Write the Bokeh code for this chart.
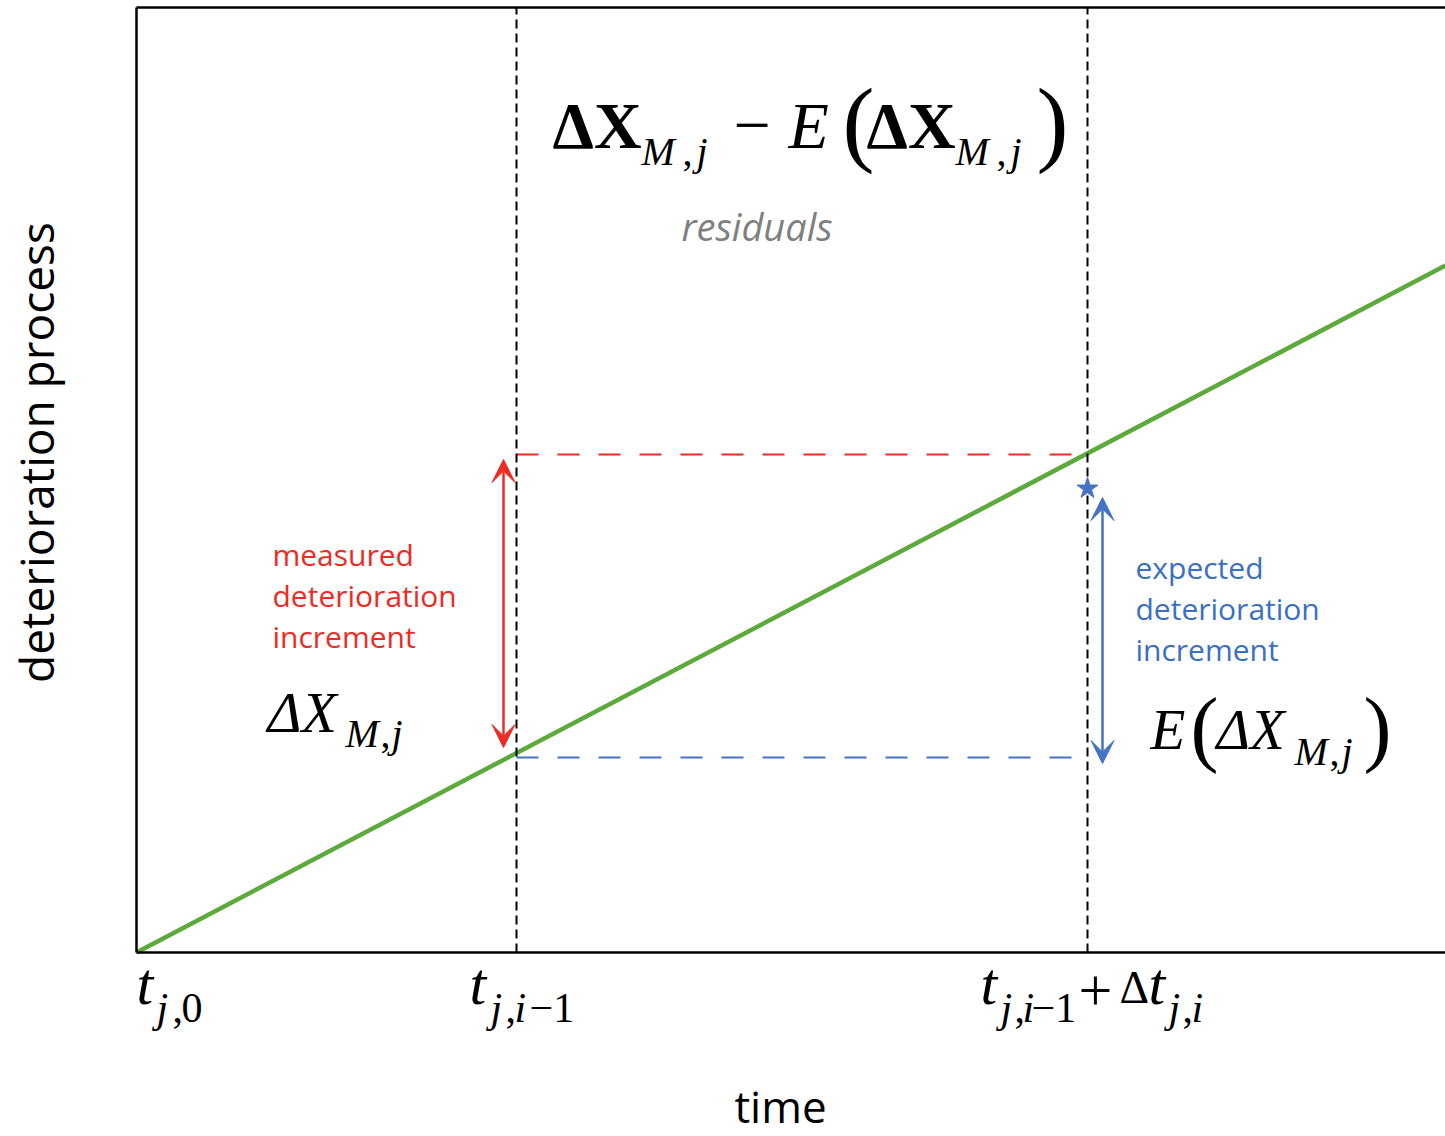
import math
from bokeh.plotting import figure
from bokeh.models import Range1d, LinearAxis, FixedTicker, Label, Arrow, VeeHead
from bokeh.embed import file_html
from bokeh.resources import INLINE

# ---------------- data ----------------
x_min, x_max = 0.0, 13.09          # time axis extent of the frame
y_min, y_max = 0.0, 9.45           # deterioration axis extent of the frame
trend_x = [0.0, 13.09]             # green deterioration trend
trend_y = [0.0, 6.87]
inspection_times = [0.0, 3.80, 9.51]   # t_{j,0}, t_{j,i-1}, t_{j,i-1}+Δt_{j,i}
level_prev = 1.95                  # deterioration at t_{j,i-1}
level_next = 4.98                  # deterioration at t_{j,i-1}+Δt_{j,i}
expected_star = 4.64               # blue star level
red_arrow_x = 3.67
red_arrow_y = [2.05, 4.93]
blue_arrow_x = 9.66
blue_arrow_y = [1.89, 4.55]

red_lines = ["measured", "deterioration", "increment"]
blue_lines = ["expected", "deterioration", "increment"]
x_title = "time"
y_title = "deterioration process"

SERIF = "Liberation Serif"
SANS = "Open Sans"
RED = "#ed2b24"
BLUE = "#4472c4"
BLUE_TXT = "#3b6fc3"
GREEN = "#5ea93b"
GRAY = "#7f7f7f"

W, H = 1445, 1136
LEFT, BOTTOM = 136, 952   # page pixel of data origin
SC = 100.0                # pixels per data unit

p = figure(width=W, height=H,
           x_range=Range1d(-LEFT / SC, (W - LEFT) / SC),
           y_range=Range1d(-(H - BOTTOM) / SC, BOTTOM / SC),
           output_backend="svg", toolbar_location=None,
           min_border=0, min_border_left=0, min_border_right=0,
           min_border_top=0, min_border_bottom=0)
p.outline_line_color = None
p.grid.visible = False
p.background_fill_color = "white"
p.border_fill_color = "white"


def style_axis(ax, loc, bounds):
    ax.ticker = FixedTicker(ticks=[])
    ax.fixed_location = loc
    ax.bounds = bounds
    ax.major_tick_out = 0
    ax.major_tick_in = 0
    ax.minor_tick_out = 0
    ax.minor_tick_in = 0
    ax.major_label_standoff = 0
    ax.axis_line_width = 2.5
    ax.axis_line_color = "black"


style_axis(p.xaxis[0], y_min, (x_min, x_max))
style_axis(p.yaxis[0], x_min, (y_min, y_max))
top = LinearAxis()
style_axis(top, y_max, (x_min, x_max))
p.add_layout(top, "above")

t0, t1, t2 = inspection_times

# dashed helper lines
p.segment(x0=[t1], y0=[level_next], x1=[t2], y1=[level_next],
          line_color=RED, line_width=2, line_dash="22 19")
p.segment(x0=[t1], y0=[level_prev], x1=[t2], y1=[level_prev],
          line_color=BLUE, line_width=2, line_dash="22 19")

# trend line
p.line(trend_x, trend_y, line_color=GREEN, line_width=4.5)

# vertical dashed lines at inspection times
p.segment(x0=[t1, t2], y0=[y_min, y_min], x1=[t1, t2], y1=[y_max, y_max],
          line_color="black", line_width=2, line_dash="9 5")

# star
p.scatter([t2], [expected_star], marker="star", size=22,
          fill_color=BLUE, line_color=BLUE)

# arrows
for ax_x, ys, col in [(red_arrow_x, red_arrow_y, RED), (blue_arrow_x, blue_arrow_y, BLUE)]:
    p.add_layout(Arrow(start=VeeHead(size=23, fill_color=col, line_color=col, line_width=1),
                       end=VeeHead(size=23, fill_color=col, line_color=col, line_width=1),
                       x_start=ax_x, y_start=ys[0], x_end=ax_x, y_end=ys[1],
                       line_color=col, line_width=2.5))

SHIFT = 0.37  # baseline correction (fraction of font size)


def txt(px, py, s, size, font=SERIF, style="normal", color="black",
        align="left", angle=0.0):
    if angle == 0.0:
        py = py - SHIFT * size
    else:
        px = px - SHIFT * size
    p.add_layout(Label(x=(px - LEFT) / SC, y=(BOTTOM - py) / SC, text=s,
                       text_font=font, text_font_size=f"{size}px",
                       text_font_style=style, text_color=color,
                       text_align=align, text_baseline="alphabetic", angle=angle))


# top formula
for s, px, py, size, style in [
    ("ΔX", 552, 149, 66, "bold"),
    ("M", 641, 166, 40, "italic"),
    (",", 682, 166, 40, "normal"),
    ("j", 696, 166, 40, "italic"),
    ("−", 733, 149, 66, "normal"),
    ("E", 788, 149, 66, "italic"),
    ("(", 842, 157, 96, "normal"),
    ("ΔX", 866, 149, 66, "bold"),
    ("M", 955, 166, 40, "italic"),
    (",", 996, 166, 40, "normal"),
    ("j", 1010, 166, 40, "italic"),
    (")", 1036, 157, 96, "normal"),
]:
    txt(px, py, s, size, style=style)

txt(681, 240, "residuals", 38, font=SANS, style="italic", color=GRAY)

# red annotation
for i, s in enumerate(red_lines):
    txt(272, 565 + 41 * i, s, 30, font=SANS, color=RED)
# blue annotation
for i, s in enumerate(blue_lines):
    txt(1135, 578 + 41 * i, s, 30, font=SANS, color=BLUE_TXT)

# left math label  ΔX_{M,j}
for s, px, py, size, style in [
    ("ΔX", 267, 733, 58, "italic"),
    ("M", 345, 748, 40, "italic"),
    (",", 380, 748, 40, "normal"),
    ("j", 391, 748, 40, "italic"),
]:
    txt(px, py, s, size, style=style)

# right math label  E(ΔX_{M,j})
for s, px, py, size, style in [
    ("E", 1150, 750, 57, "italic"),
    ("(", 1190, 758, 84, "normal"),
    ("ΔX", 1216, 750, 57, "italic"),
    ("M", 1294, 766, 40, "italic"),
    (",", 1329, 766, 40, "normal"),
    ("j", 1341, 766, 40, "italic"),
    (")", 1363, 758, 84, "normal"),
]:
    txt(px, py, s, size, style=style)

# time tick labels
MB, SB = 1006, 1023
for s, px, py, size, style in [
    ("t", 136, MB, 60, "italic"),
    ("j", 156, SB, 42, "italic"),
    (",", 172, SB, 42, "normal"),
    ("0", 181, SB, 42, "normal"),

    ("t", 469, MB, 60, "italic"),
    ("j", 490, SB, 42, "italic"),
    (",", 505, SB, 42, "normal"),
    ("i", 514, SB, 42, "italic"),
    ("−1", 529, SB, 42, "normal"),

    ("t", 980, MB, 60, "italic"),
    ("j", 1000, SB, 42, "italic"),
    (",", 1014, SB, 42, "normal"),
    ("i", 1022, SB, 42, "italic"),
    ("−1", 1031, SB, 42, "normal"),
    ("+", 1078, 1012, 60, "normal"),
    ("Δ", 1119, 1004, 46, "normal"),
    ("t", 1148, MB, 60, "italic"),
    ("j", 1168, SB, 42, "italic"),
    (",", 1182, SB, 42, "normal"),
    ("i", 1191, SB, 42, "italic"),
]:
    txt(px, py, s, size, style=style)

# axis titles
txt(780, 1122, x_title, 44, font=SANS, align="center")
txt(53, 452, y_title, 46, font=SANS, align="center", angle=math.pi / 2)

open("out.html", "w").write(file_html(p, INLINE))
